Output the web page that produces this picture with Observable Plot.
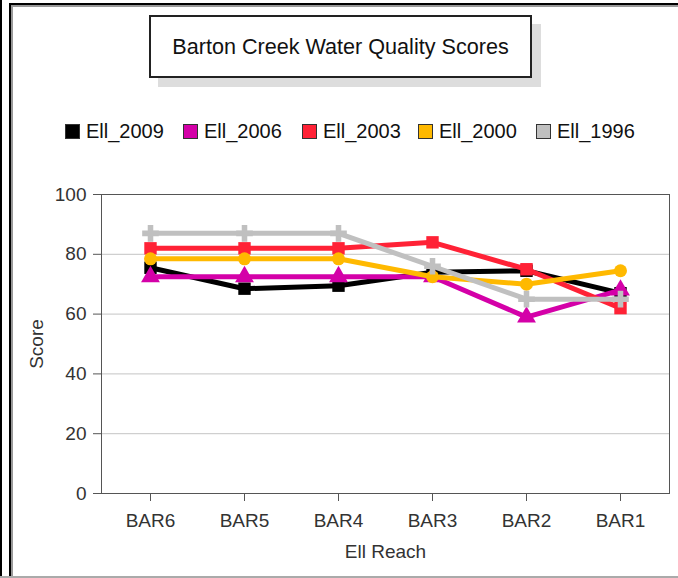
<!DOCTYPE html>
<html><head><meta charset="utf-8">
<script src="https://cdn.jsdelivr.net/npm/d3@7"></script>
<script src="https://cdn.jsdelivr.net/npm/@observablehq/plot@0.6"></script>
<style>
body{margin:0;background:#fff;}
#wrap{position:relative;width:678px;height:578px;overflow:hidden;background:#fff;font-family:"Liberation Sans",Arial,sans-serif;}
#wrap svg{position:absolute;left:0;top:0;}
.ln{position:absolute;}
#title{position:absolute;left:149px;top:15px;width:379px;height:59px;border:2px solid #222;background:#fff;box-shadow:9px 9px 0 #ddd;display:flex;align-items:center;justify-content:center;font-size:21.6px;color:#111;}
.lg{position:absolute;top:120px;display:flex;align-items:center;font-size:20px;color:#111;white-space:nowrap;}
.sw{width:13px;height:13px;border:1px solid #333;margin-right:6px;}
</style></head>
<body><div id="wrap"></div>
<script>
const reaches = ["BAR6","BAR5","BAR4","BAR3","BAR2","BAR1"];
const seriesNames = ["Ell_2009","Ell_2006","Ell_2003","Ell_2000","Ell_1996"];
const ell2009 = [75.5, 68.5, 69.5, 74, 74.5, 67];
const ell2006 = [72.5, 72.5, 72.5, 72.5, 59, 68];
const ell2003 = [82, 82, 82, 84, 75, 62];
const ell2000 = [78.5, 78.5, 78.5, 72.5, 70, 74.5];
const ell1996 = [87, 87, 87, 76, 65, 65];
const colors = ["#000000","#d400a8","#ff2236","#ffb900","#c0c0c0"];
const symbols = ["square","triangle","square","circle","cross"];
const yTicks = [0,20,40,60,80,100];

const values = [ell2009, ell2006, ell2003, ell2000, ell1996];
const data = [];
seriesNames.forEach((s,i)=>reaches.forEach((r,j)=>data.push({series:s, reach:r, score:values[i][j]})));

const wrap = document.getElementById("wrap");
const marks = [
  Plot.gridY([20,40,60,80], {stroke:"#c4c4c4", strokeOpacity:1}),
  Plot.frame({stroke:"#555"}),
  Plot.axisY(yTicks, {tickSize:8, fontSize:19, color:"#333", stroke:"#555", label:"Score", labelAnchor:"center", labelArrow:"none", labelOffset:72, tickPadding:7}),
  Plot.axisX({tickSize:8, fontSize:19, color:"#333", stroke:"#555", label:"Ell Reach", labelAnchor:"center", labelArrow:"none", labelOffset:64, tickPadding:12})
];
seriesNames.forEach((s,i)=>{
  const d = data.filter(e=>e.series===s);
  marks.push(Plot.line(d, {x:"reach", y:"score", stroke:colors[i], strokeWidth:5}));
  marks.push(Plot.dot(d, {x:"reach", y:"score", fill:colors[i], symbol:()=>symbols[i], r: symbols[i]==="circle"?6.5:7, stroke:"none"}));
});
const chart = Plot.plot({
  width:678, height:578, marginLeft:101, marginRight:9, marginTop:194, marginBottom:85,
  style:{background:"transparent", fontFamily:"Liberation Sans, Arial, sans-serif"},
  x:{type:"point", domain:reaches, padding:0.5},
  y:{domain:[0,100]},
  symbol:{type:"identity"},
  marks
});
wrap.appendChild(chart);

function line(l,t,w,h,c){const e=document.createElement("div");e.className="ln";Object.assign(e.style,{left:l+"px",top:t+"px",width:w+"px",height:h+"px",background:c});wrap.appendChild(e);}
line(0,0,2,578,"#000");
line(9,3,2,575,"#000");
line(11,5,2,573,"#999");
line(9,3,669,2,"#000");
line(11,5,667,2,"#999");
line(0,576,678,2,"#aaa");

const t=document.createElement("div");t.id="title";t.textContent="Barton Creek Water Quality Scores";wrap.appendChild(t);
const lx=[65,183,302,418,536];
seriesNames.forEach((s,i)=>{
  const g=document.createElement("div");g.className="lg";g.style.left=lx[i]+"px";
  const sw=document.createElement("div");sw.className="sw";sw.style.background=colors[i];
  g.appendChild(sw);g.appendChild(document.createTextNode(s));wrap.appendChild(g);
});
</script></body></html>
